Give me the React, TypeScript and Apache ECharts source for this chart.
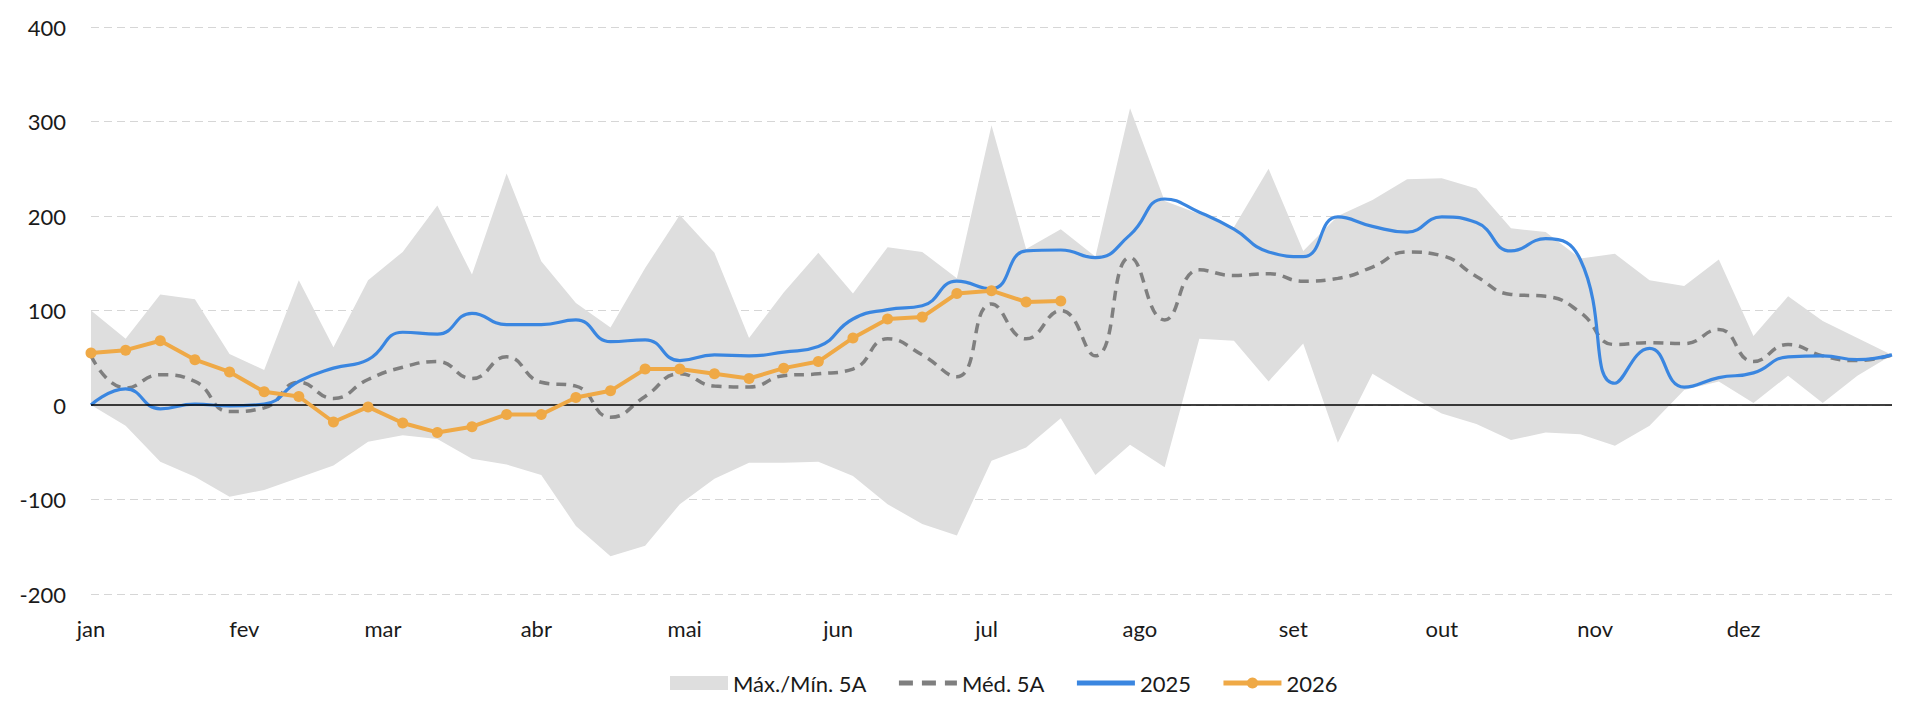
import React, { useEffect, useRef } from 'react';
import * as echarts from 'echarts';

// x position of each weekly point, in days from 1 Jan
const weekDays = [
  0, 7, 14, 21, 28, 35, 42, 49, 56, 63, 70, 77, 84, 91, 98, 105, 112, 119, 126, 133,
  140, 147, 154, 161, 168, 175, 182, 189, 196, 203, 210, 217, 224, 231, 238, 245, 252,
  259, 266, 273, 280, 287, 294, 301, 308, 315, 322, 329, 336, 343, 350, 357, 364,
];

const monthStarts = [0, 31, 59, 90, 120, 151, 181, 212, 243, 273, 304, 334];
const monthLabels = ['jan', 'fev', 'mar', 'abr', 'mai', 'jun', 'jul', 'ago', 'set', 'out', 'nov', 'dez'];

const maxValues = [
  100, 70, 117, 112, 54, 37, 132, 61, 132, 162, 211, 138, 245, 152, 108, 82, 145, 201, 161, 71,
  119, 161, 118, 167, 162, 134, 296, 165, 186, 157, 314, 216, 202, 188, 250, 163, 200, 217,
  239, 240, 229, 187, 183, 155, 160, 132, 126, 154, 73, 115, 89, 71, 53,
];

const minValues = [
  0, -22, -60, -76, -97, -90, -77, -64, -39, -32, -36, -57, -63, -74, -128, -160, -149, -105,
  -78, -61, -61, -60, -75, -105, -126, -138, -59, -45, -14, -74, -42, -66, 70, 68, 25, 65, -40,
  33, 11, -9, -20, -37, -29, -31, -43, -22, 16, 25, 2, 31, 2, 31, 53,
];

const medianValues = [
  52, 18, 32, 25, -7, -3, 24, 7, 27, 40, 46, 28, 51, 24, 20, -13, 9, 33, 20, 19, 31, 33, 38,
  70, 53, 30, 107, 70, 100, 52, 156, 90, 143, 137, 139, 131, 134, 146, 162, 158, 136, 117, 115,
  98, 64, 66, 65, 80, 46, 64, 52, 47, 53,
];

const values2025 = [
  0, 17, -4, 1, -1, 1, 25, 39, 48, 77, 75, 97, 85, 85, 90, 67, 69, 47, 53, 52, 56, 62, 91, 101,
  105, 131, 123, 163, 164, 156, 180, 218, 204, 186, 162, 157, 199, 189, 183, 199, 193, 163, 176,
  154, 23, 60, 19, 29, 34, 51, 52, 48, 53,
];

const values2026 = [
  55, 58, 68, 48, 35, 14, 9, -18, -2, -19, -29, -23, -10, -10, 8, 15, 38, 38, 33, 28, 39, 46, 71,
  91, 93, 118, 121, 109, 110,
];

const yMin = -200;
const yMax = 400;
const yStep = 100;

const BAND = '#dedede';
const MEDIAN = '#7f7f7f';
const BLUE = '#3a86e0';
const ORANGE = '#efa946';

export default function App() {
  const ref = useRef<HTMLDivElement>(null);

  useEffect(() => {
    document.body.style.margin = '0';
    const chart = echarts.init(ref.current!, null, { renderer: 'svg' });
    const font = 'Lato, "Noto Sans", sans-serif';
    const toPoints = (vals: number[]) => vals.map((v, i) => [weekDays[i], v]);
    const bandData = maxValues.map((v, i) => [weekDays[i], v, minValues[i]]);

    chart.setOption({
      animation: false,
      textStyle: { fontFamily: font },
      grid: { left: 91, right: 28, top: 27, bottom: 123, containLabel: false },
      legend: {
        left: 665,
        top: 667,
        itemWidth: 58,
        itemHeight: 14,
        itemGap: 30,
        lineStyle: { width: 5 },
        textStyle: { fontFamily: font, fontSize: 22, color: '#1a1a1a' },
        data: [
          { name: 'Máx./Mín. 5A', icon: 'rect' },
          { name: 'Méd. 5A', itemStyle: { opacity: 0 }, lineStyle: { width: 5, type: [14, 9] } },
          { name: '2025', itemStyle: { opacity: 0 }, lineStyle: { width: 5 } },
          { name: '2026', lineStyle: { width: 5 } },
        ],
      },
      xAxis: {
        type: 'value',
        min: 0,
        max: 364,
        axisLine: { show: false },
        axisTick: { show: false },
        splitLine: { show: false },
        axisLabel: {
          customValues: monthStarts,
          formatter: (v: number) => monthLabels[monthStarts.indexOf(v)] ?? '',
          fontFamily: font,
          fontSize: 22,
          color: '#1a1a1a',
          margin: 23,
        },
      },
      yAxis: {
        type: 'value',
        min: yMin,
        max: yMax,
        interval: yStep,
        axisLine: { show: false },
        axisTick: { show: false },
        axisLabel: { fontFamily: font, fontSize: 22, color: '#1a1a1a', margin: 25 },
        splitLine: { lineStyle: { color: '#d6d6d6', width: 1.2, type: [8, 5] } },
      },
      series: [
        {
          name: 'Máx./Mín. 5A',
          type: 'custom',
          data: bandData,
          encode: { x: 0, y: [1, 2] },
          itemStyle: { color: BAND },
          silent: true,
          z: 1,
          renderItem: (params: any, api: any) => {
            if (params.dataIndex !== 0) return null;
            const upper = maxValues.map((v, i) => api.coord([weekDays[i], v]));
            const lower = minValues.map((v, i) => api.coord([weekDays[i], v])).reverse();
            return {
              type: 'polygon',
              shape: { points: upper.concat(lower) },
              style: { fill: BAND, stroke: 'none' },
              silent: true,
            };
          },
        },
        {
          name: 'Méd. 5A',
          type: 'line',
          data: toPoints(medianValues),
          smooth: true,
          symbol: 'none',
          color: MEDIAN,
          lineStyle: { color: MEDIAN, width: 3.5, type: [10, 7] },
          z: 3,
          markLine: {
            silent: true,
            symbol: 'none',
            label: { show: false },
            lineStyle: { color: '#000', width: 1.5, type: 'solid' },
            data: [{ yAxis: 0 }],
          },
        },
        {
          name: '2025',
          type: 'line',
          data: toPoints(values2025),
          smooth: true,
          symbol: 'none',
          color: BLUE,
          lineStyle: { color: BLUE, width: 3.2 },
          z: 4,
        },
        {
          name: '2026',
          type: 'line',
          data: toPoints(values2026),
          symbol: 'circle',
          symbolSize: 11,
          color: ORANGE,
          itemStyle: { color: ORANGE },
          lineStyle: { color: ORANGE, width: 4 },
          z: 5,
        },
      ],
    });

    return () => chart.dispose();
  }, []);

  return <div ref={ref} style={{ width: 1920, height: 717 }} />;
}
